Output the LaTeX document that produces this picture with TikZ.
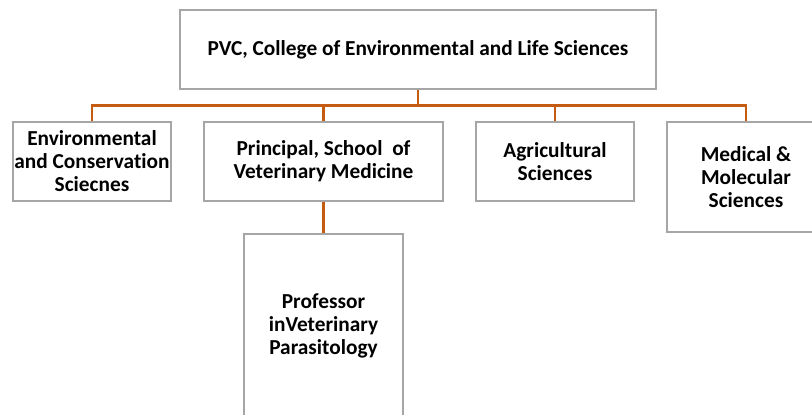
\documentclass[tikz,border=0pt]{standalone}
\usepackage{fontspec}
\setmainfont{Carlito}[Ligatures=CommonOff]
\begin{document}
\begin{tikzpicture}[x=0.75pt,y=-0.75pt,
  box/.style={draw=boxgray,line width=1.2pt,fill=white,rectangle,align=center,
    font=\bfseries\fontsize{16}{17.25}\selectfont,inner sep=0pt},
  conn/.style={draw=connorange,line width=2pt}]
\definecolor{boxgray}{HTML}{A6A6A6}
\definecolor{connorange}{HTML}{C55A11}
\useasboundingbox (0,0) rectangle (812,414);
\clip (0,0) rectangle (812,414);
\node[box,minimum width=476*0.75pt,minimum height=79*0.75pt] (top) at (418,49.5) {PVC, College of Environmental and Life Sciences};
\node[box,minimum width=158*0.75pt,minimum height=79*0.75pt] (env) at (92,161.5) {Environmental\\and Conservation\\Sciecnes};
\node[box,minimum width=239*0.75pt,minimum height=79*0.75pt] (vet) at (323.5,161.5) {Principal, School\ \ of\\Veterinary Medicine};
\node[box,minimum width=158*0.75pt,minimum height=79*0.75pt] (agr) at (555,161.5) {Agricultural\\Sciences};
\node[box,minimum width=158*0.75pt,minimum height=110*0.75pt] (med) at (746,177) {Medical \&\\Molecular\\Sciences};
\node[box,minimum width=159*0.75pt,minimum height=184*0.75pt] (prof) at (323.5,326) {Professor\\inVeterinary\\Parasitology};
\draw[conn] (top.south) -- ++(0,16) -| (env.north);
\draw[conn] (top.south) -- ++(0,16) -| (vet.north);
\draw[conn] (top.south) -- ++(0,16) -| (agr.north);
\draw[conn] (top.south) -- ++(0,16) -| (med.north);
\draw[conn] (vet.south) -- (prof.north);
\end{tikzpicture}
\end{document}
